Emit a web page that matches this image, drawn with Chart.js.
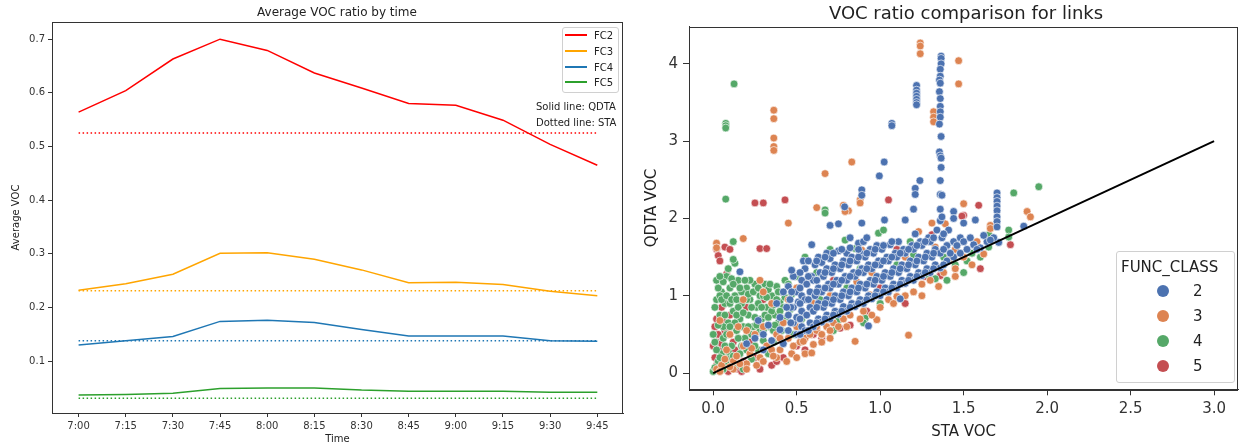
<!DOCTYPE html>
<html>
<head>
<meta charset="utf-8">
<script src="https://cdn.jsdelivr.net/npm/chart.js@4.4.0/dist/chart.umd.min.js"></script>
<style>
body { margin: 0; background: #fff; font-family: "DejaVu Sans", sans-serif; color: #222; }
#wrap { position: relative; width: 1243px; height: 446px; overflow: hidden; }
.box { position: absolute; top: 0; height: 446px; }
.title { position: absolute; transform: translate(-50%, -50%); white-space: nowrap; color: #222; }
.lg { position: absolute; background: rgba(255,255,255,0.85); border: 1px solid #d0d0d0; border-radius: 3px; }
.lgtxt { position: absolute; white-space: nowrap; transform: translateY(-50%); }
</style>
</head>
<body>
<div id="wrap">
  <div class="box" style="left:0;width:630px"><canvas id="left"></canvas></div>
  <div class="box" style="left:635px;width:608px"><canvas id="right"></canvas></div>
  <div class="title" style="left:337px;top:12px;font-size:12px">Average VOC ratio by time</div>
  <div class="title" style="left:966px;top:12px;font-size:18px">VOC ratio comparison for links</div>
  <div id="leftLegend"></div>
  <div class="lgtxt" style="left:536px;top:106px;font-size:10px">Solid line: QDTA</div>
  <div class="lgtxt" style="left:536px;top:122px;font-size:10px">Dotted line: STA</div>
  <div id="rightLegend"></div>
</div>
<script>
// ---- left chart data ----
var times = ['7:00', '7:15', '7:30', '7:45', '8:00', '8:15', '8:30', '8:45', '9:00', '9:15', '9:30', '9:45'];
var seriesNames = ['FC2', 'FC3', 'FC4', 'FC5'];
var fc2Qdta = [0.564, 0.604, 0.663, 0.700, 0.679, 0.637, 0.609, 0.580, 0.577, 0.549, 0.504, 0.465];
var fc3Qdta = [0.232, 0.244, 0.262, 0.301, 0.302, 0.290, 0.270, 0.246, 0.247, 0.243, 0.230, 0.222];
var fc4Qdta = [0.130, 0.138, 0.146, 0.174, 0.176, 0.172, 0.159, 0.147, 0.147, 0.147, 0.138, 0.137];
var fc5Qdta = [0.037, 0.038, 0.040, 0.049, 0.050, 0.050, 0.046, 0.044, 0.044, 0.044, 0.042, 0.042];
var staAvg = [0.525, 0.231, 0.138, 0.031];
var leftTicks = [0.1, 0.2, 0.3, 0.4, 0.5, 0.6, 0.7];

// ---- right chart data ([STA VOC, QDTA VOC] per link) ----
var funcClasses = ['2', '3', '4', '5'];
var class2Points = [
  [1.365,4.10],[1.365,4.07],[1.365,4.0],[1.36,3.93],[1.36,3.84],[1.355,3.79],[1.36,3.75],[1.355,3.64],[1.36,3.55],[1.36,3.45],
  [1.36,3.38],[1.36,3.31],[1.355,3.22],[1.365,3.06],[1.355,2.86],[1.36,2.81],[1.365,2.78],[1.365,2.66],[1.36,2.49],[1.36,2.31],
  [1.36,2.12],[1.36,1.97],[1.37,2.30],[1.37,2.02],[1.218,3.72],[1.218,3.66],[1.218,3.62],[1.218,3.58],[1.218,3.54],[1.218,3.50],
  [1.218,3.47],[1.07,3.23],[1.07,3.20],[1.024,2.73],[0.995,2.55],[0.89,2.37],[0.89,2.30],[0.787,2.15],[1.026,1.98],[1.15,1.98],
  [0.75,1.93],[0.70,1.91],[1.238,2.49],[1.21,2.39],[1.21,2.31],[1.20,2.12],[0.89,1.94],[1.44,2.09],[1.44,2.0],[1.5,1.94],
  [1.57,1.98],[1.70,2.33],[1.70,2.27],[1.70,2.22],[1.70,2.16],[1.70,2.10],[1.70,2.02],[1.70,1.96],[1.70,1.89],[1.86,1.90],
  [1.71,1.69],[0.59,1.66],
  [0.45,0.55],[0.45,0.75],[0.46,0.95],[0.45,1.12],[0.48,0.65],[0.48,0.85],[0.48,1.25],[0.5,0.5],[0.5,0.72],[0.51,0.92],
  [0.5,1.05],[0.53,0.6],[0.53,0.8],[0.53,1.0],[0.53,1.2],[0.54,1.45],[0.55,0.55],[0.56,0.75],[0.55,0.95],[0.56,1.15],
  [0.55,1.35],[0.58,0.65],[0.58,0.85],[0.58,1.05],[0.59,1.25],[0.6,0.6],[0.6,0.8],[0.61,1.0],[0.6,1.2],[0.61,1.4],
  [0.63,0.7],[0.63,0.9],[0.63,1.1],[0.64,1.3],[0.63,1.5],[0.65,0.66],[0.66,0.85],[0.65,1.05],[0.66,1.25],[0.65,1.43],
  [0.68,0.75],[0.68,0.95],[0.69,1.15],[0.68,1.35],[0.68,1.55],[0.7,0.7],[0.71,0.9],[0.7,1.1],[0.71,1.3],[0.7,1.48],
  [0.73,0.8],[0.73,1.0],[0.74,1.2],[0.73,1.4],[0.75,0.76],[0.76,0.95],[0.75,1.15],[0.76,1.35],[0.75,1.58],[0.78,0.86],
  [0.78,1.05],[0.79,1.25],[0.78,1.45],[0.8,0.8],[0.81,1.0],[0.8,1.2],[0.81,1.4],[0.8,1.55],[0.82,1.75],[0.83,0.9],
  [0.83,1.1],[0.84,1.3],[0.83,1.5],[0.85,0.86],[0.86,1.05],[0.85,1.25],[0.86,1.45],[0.87,1.68],[0.88,0.95],[0.88,1.15],
  [0.89,1.35],[0.88,1.55],[0.9,0.9],[0.91,1.1],[0.9,1.3],[0.91,1.5],[0.9,1.7],[0.93,0.61],[0.93,1.0],[0.94,1.2],
  [0.93,1.4],[0.94,1.6],[0.95,0.96],[0.96,1.15],[0.95,1.35],[0.96,1.55],[0.98,1.05],[0.98,1.25],[0.99,1.45],[0.98,1.65],
  [1.0,1.0],[1.01,1.2],[1.0,1.4],[1.01,1.6],[1.03,1.1],[1.03,1.3],[1.04,1.5],[1.05,1.05],[1.06,1.25],[1.05,1.45],
  [1.06,1.66],[1.08,1.15],[1.08,1.35],[1.09,1.55],[1.1,1.1],[1.11,1.3],[1.1,1.5],[1.11,1.7],[1.12,0.96],[1.13,1.2],
  [1.13,1.4],[1.14,1.6],[1.15,1.16],[1.16,1.35],[1.15,1.55],[1.18,1.25],[1.18,1.45],[1.19,1.65],[1.2,1.2],[1.21,1.4],
  [1.2,1.6],[1.21,1.8],[1.23,1.3],[1.23,1.5],[1.24,1.7],[1.25,1.26],[1.26,1.45],[1.25,1.65],[1.28,1.35],[1.28,1.55],
  [1.29,1.75],[1.3,1.3],[1.31,1.5],[1.3,1.7],[1.33,1.4],[1.33,1.6],[1.34,1.85],[1.36,1.36],[1.36,1.55],[1.37,1.75],
  [1.4,1.45],[1.4,1.65],[1.41,1.85],[1.44,1.5],[1.44,1.7],[1.48,1.55],[1.48,1.75],[1.52,1.6],[1.56,1.66],[1.6,1.62],
  [1.64,1.7],[1.68,1.75],
  [0.465,0.65],[0.465,0.85],[0.47,1.05],[0.47,1.33],[0.52,0.5],[0.52,0.7],[0.52,0.9],[0.52,1.1],[0.52,1.3],[0.57,0.55],
  [0.57,0.95],[0.57,1.25],[0.57,1.45],[0.62,0.65],[0.62,0.85],[0.62,1.05],[0.62,1.2],[0.62,1.45],[0.67,0.7],[0.67,0.9],
  [0.67,1.1],[0.67,1.3],[0.67,1.5],[0.72,0.75],[0.72,0.95],[0.72,1.15],[0.72,1.35],[0.72,1.55],[0.77,0.8],[0.77,1.0],
  [0.77,1.2],[0.77,1.4],[0.77,1.6],[0.82,0.85],[0.82,1.05],[0.82,1.25],[0.82,1.45],[0.82,1.62],[0.87,0.9],[0.87,1.1],
  [0.87,1.3],[0.87,1.5],[0.87,1.6],[0.92,0.95],[0.92,1.15],[0.92,1.35],[0.92,1.55],[0.92,1.75],[0.97,1.0],[0.97,1.2],
  [0.97,1.4],[0.97,1.6],[1.02,1.05],[1.02,1.25],[1.02,1.45],[1.02,1.65],[1.07,1.1],[1.07,1.3],[1.07,1.5],[1.07,1.7],
  [1.12,1.15],[1.12,1.35],[1.12,1.55],[1.17,1.2],[1.17,1.4],[1.17,1.6],[1.22,1.25],[1.22,1.45],[1.22,1.65],[1.27,1.3],
  [1.27,1.5],[1.27,1.7],[1.32,1.35],[1.32,1.55],[1.32,1.75],[1.38,1.4],[1.38,1.6],[1.38,1.8],[1.42,1.55],[1.46,1.65],
  [1.5,1.7],[1.54,1.75],[1.58,1.6],[1.62,1.78],[1.66,1.72],
  [0.25,0.45],[0.3,0.5],[0.35,0.42],[0.4,0.56],[0.38,0.9],[0.42,1.05],[0.16,1.31],[0.3,0.3],[0.2,0.38],[0.42,0.38],
  [0.33,0.62],[0.44,0.85],[0.27,0.68],[0.4,0.72]
];
var class3Points = [
  [1.24,4.27],[1.24,4.23],[1.24,4.13],[1.47,4.04],[1.47,3.74],[1.32,3.38],[1.32,3.31],[1.32,3.25],[0.363,3.40],[0.363,3.29],
  [0.363,3.04],[0.363,2.93],[0.363,2.88],[0.83,2.73],[0.67,2.58],[0.88,2.24],[0.88,2.2],[0.81,2.10],[0.62,2.14],[0.45,1.94],
  [0.78,2.17],[0.79,2.09],[1.5,2.19],[1.88,2.09],[1.9,2.02],[1.23,1.83],[1.31,1.94],[1.39,1.93],[1.66,1.91],[1.66,1.87],
  [0.18,1.74],[0.02,1.68],[0.02,1.62],
  [0.02,0.05],[0.05,0.1],[0.08,0.3],[0.1,0.5],[0.12,0.15],[0.15,0.6],[0.18,0.35],[0.2,0.55],[0.22,0.25],[0.25,0.5],
  [0.28,0.2],[0.3,0.6],[0.32,0.35],[0.35,0.3],[0.38,0.5],[0.4,0.3],[0.42,0.65],[0.45,0.45],[0.47,0.25],[0.5,0.6],
  [0.52,0.4],[0.55,0.45],[0.58,0.5],[0.6,0.37],[0.62,0.55],[0.65,0.5],[0.68,0.6],[0.7,0.55],[0.72,0.65],[0.75,0.6],
  [0.78,0.7],[0.82,0.75],[0.85,0.41],[0.86,1.18],[0.89,1.59],[0.94,1.01],[0.98,0.69],[1.0,0.85],[1.03,1.46],[1.1,0.99],
  [1.15,1.5],[1.17,0.49],[1.2,1.05],[1.25,1.15],[1.3,1.2],[1.33,1.63],[1.38,1.3],[1.41,1.46],[1.45,1.35],[1.5,1.5],
  [1.55,1.4],[1.62,1.54],[0.7,1.0],[0.5,1.1],[0.45,0.95],[0.35,0.9],[0.28,1.2],[0.18,0.95],[0.04,0.68],[0.3,1.05],
  [0.12,0.05],[0.2,0.12],[0.26,0.1],[0.38,0.2],[0.44,0.15],[0.5,0.2],[0.55,0.25],[0.9,0.8],[1.05,0.95],[1.15,1.0],
  [0.95,1.3],[0.6,0.9],[1.45,1.6],[1.58,1.7],[0.4,0.45],[0.59,0.26],[0.54,0.41],
  [0.04,0.02],[0.07,0.18],[0.1,0.08],[0.14,0.22],[0.16,0.12],[0.2,0.05],[0.23,0.32],[0.3,0.15],[0.65,0.4],[0.7,0.45],
  [0.8,0.6],[0.88,0.7],[0.95,0.75],[1.08,0.9],[1.25,1.0],[1.35,1.12],[1.45,1.25],[0.62,0.6],[0.48,0.35],[0.36,0.22]
];
var class4Points = [
  [0.02,0.95],[0.02,1.2],[0.04,0.75],[0.05,1.05],[0.06,0.45],[0.07,0.9],[0.08,1.25],[0.09,0.65],[0.1,1.1],[0.11,0.35],
  [0.12,0.8],[0.13,1.0],[0.14,0.55],[0.15,1.2],[0.16,0.7],[0.17,0.9],[0.19,0.45],[0.2,1.1],[0.21,0.75],[0.22,0.95],
  [0.24,0.6],[0.25,1.15],[0.26,0.85],[0.28,1.0],[0.29,0.7],[0.3,0.42],[0.31,1.15],[0.32,0.85],[0.34,0.6],[0.35,1.0],
  [0.37,0.75],[0.38,1.12],[0.4,0.92],[0.41,0.55],[0.43,1.2],[0.44,0.72],[0.47,1.02],[0.5,1.25],[0.03,0.15],[0.05,0.25],
  [0.08,0.12],[0.1,0.2],[0.13,0.1],[0.16,0.25],[0.18,0.05],[0.2,0.3],[0.23,0.18],[0.27,0.3],[0.33,0.25],[0.36,0.4],
  [0.06,0.6],[0.09,1.35],[0.13,1.42],[0.12,1.47],[0.12,1.7],[0.03,1.1],[0.07,0.35],[0.15,0.45],
  [0.0,0.5],[0.01,0.85],[0.04,1.0],[0.06,1.18],[0.08,0.5],[0.1,0.9],[0.11,1.22],[0.13,0.65],[0.15,0.85],[0.17,1.05],
  [0.18,0.6],[0.2,0.95],[0.22,1.2],[0.23,0.5],[0.25,0.72],[0.27,0.9],[0.28,0.55],[0.3,1.0],[0.31,0.75],[0.33,1.08],
  [0.35,0.8],[0.36,0.55],[0.38,0.95],[0.39,0.65],[0.42,0.85],[0.45,1.15],[0.17,0.35],[0.25,0.35],[0.06,0.05],[0.0,0.02],
  [0.02,0.3],
  [0.01,0.4],[0.03,0.62],[0.05,0.95],[0.04,1.25],[0.07,0.75],[0.08,1.0],[0.1,0.6],[0.11,0.95],[0.12,1.15],[0.14,0.75],
  [0.14,0.95],[0.16,1.1],[0.18,0.78],[0.19,1.2],[0.21,0.6],[0.21,1.02],[0.23,0.85],[0.24,1.05],[0.26,0.62],[0.27,1.1],
  [0.29,0.85],[0.3,0.55],[0.32,0.98],[0.33,0.72],[0.34,1.15],[0.36,0.88],[0.37,0.62],[0.39,1.05],[0.4,0.8],[0.42,0.68],
  [0.43,0.98],[0.46,0.82],[0.01,0.07],[0.04,0.2],[0.09,0.28],[0.12,0.22],
  [0.55,1.5],[0.62,1.3],[0.7,1.6],[0.75,0.69],[0.79,1.72],[0.85,1.61],[0.88,1.35],[0.91,0.71],[0.97,1.22],[0.99,1.81],
  [1.02,1.85],[1.18,1.7],[1.2,1.53],[1.29,1.27],[1.33,1.22],[1.45,1.4],[1.55,1.55],[1.65,1.63],[1.65,1.79],[1.77,1.85],
  [1.77,1.76],[1.80,2.33],[1.95,2.41],[1.52,1.45],[0.58,0.95],[0.48,0.5],[0.67,2.11],[0.67,2.07],[0.075,3.23],[0.075,3.2],
  [0.075,3.17],[0.125,3.74],[0.075,2.25],[1.1,1.4],[0.8,1.1],[1.38,1.5],[1.6,1.5],[0.64,0.95],[0.53,0.7],
  [0.72,0.55],[0.9,0.65],[1.0,0.9],[1.4,1.2],[1.5,1.3]
];
var class5Points = [
  [0.01,0.2],[0.02,0.4],[0.01,0.6],[0.03,0.5],[0.02,0.7],[0.04,0.3],[0.05,0.85],[0.06,0.15],[0.07,0.55],[0.1,0.75],
  [0.12,0.4],[0.15,0.05],[0.18,0.15],[0.2,0.85],[0.25,0.2],[0.28,0.05],[0.3,0.95],[0.35,0.1],[0.38,0.15],[0.42,0.2],
  [0.5,0.35],[0.55,0.3],[0.6,0.5],[0.65,0.45],[0.72,1.2],[0.76,0.58],[0.84,1.46],[0.92,0.8],[1.0,1.1],[1.1,1.6],
  [1.2,1.61],[1.27,1.25],[1.36,1.27],[1.31,1.79],[1.5,2.04],[1.49,2.03],[1.59,2.17],[1.78,1.66],[1.36,1.26],[0.02,1.6],
  [0.03,1.52],[0.04,1.45],[0.07,1.63],[0.1,1.6],[0.28,1.61],[0.32,1.61],[0.25,2.2],[0.3,2.2],[0.43,2.24],[1.05,2.24],
  [0.08,1.28],[0.15,0.7],[0.22,0.4],[0.0,0.35],[0.03,0.08],[0.09,0.02],[0.14,1.18],
  [0.02,0.1],[0.05,0.38],[0.08,0.22],[0.11,0.1],[0.13,0.3],[0.17,0.02],[0.06,0.68],[0.82,0.62],[1.15,0.9],[1.6,1.35]
];
var refLine = [[0, 0], [3, 3]];
var rightXTicks = [0, 0.5, 1, 1.5, 2, 2.5, 3];
var rightYTicks = [0, 1, 2, 3, 4];

var lineColors = ['#ff0000', '#ffa500', '#1f77b4', '#2ca02c'];
var dotColors = ['#4c72b0', '#dd8452', '#55a868', '#c44e52'];
var font = 'DejaVu Sans';
var ink = '#333';

var frame = {
  id: 'frame',
  afterDraw: function (c) {
    var a = c.chartArea, x = c.ctx;
    x.save();
    x.strokeStyle = ink;
    x.lineWidth = 1;
    x.strokeRect(Math.round(a.left) + 0.5, Math.round(a.top) + 0.5, Math.round(a.right - a.left) - 1, Math.round(a.bottom - a.top));
    x.restore();
  }
};

function toXY(pairs) {
  return pairs.map(function (p) { return { x: p[0], y: p[1] }; });
}

// ---- left chart ----
var qdta = [fc2Qdta, fc3Qdta, fc4Qdta, fc5Qdta];
var leftSets = [];
qdta.forEach(function (vals, k) {
  leftSets.push({
    label: seriesNames[k],
    data: vals.map(function (v, i) { return { x: i, y: v }; }),
    borderColor: lineColors[k], borderWidth: 1.5, pointRadius: 0, tension: 0
  });
  leftSets.push({
    label: seriesNames[k] + ' STA',
    data: times.map(function (t, i) { return { x: i, y: staAvg[k] }; }),
    borderColor: lineColors[k], borderWidth: 1.5, borderDash: [1.5, 2.5], pointRadius: 0
  });
});

new Chart(document.getElementById('left'), {
  type: 'line',
  data: { datasets: leftSets },
  options: {
    responsive: true, maintainAspectRatio: false, animation: false,
    layout: { padding: { top: 22, right: 7 } },
    plugins: { legend: { display: false }, tooltip: { enabled: false } },
    scales: {
      x: {
        type: 'linear', min: -0.564, max: 11.545,
        afterBuildTicks: function (s) { s.ticks = times.map(function (t, i) { return { value: i }; }); },
        afterFit: function (s) { s.height = 33; },
        ticks: { callback: function (v) { return times[v]; }, color: ink, font: { family: font, size: 10 }, padding: 3, maxRotation: 0, autoSkip: false },
        grid: { drawOnChartArea: false, tickLength: 4, color: ink },
        border: { color: ink },
        title: { display: true, text: 'Time', color: '#222', font: { family: font, size: 10 }, padding: { top: 0, bottom: 1 } }
      },
      y: {
        min: 0.0033, max: 0.732,
        afterBuildTicks: function (s) { s.ticks = leftTicks.map(function (v) { return { value: v }; }); },
        afterFit: function (s) { s.width = 52; },
        ticks: { callback: function (v) { return v.toFixed(1); }, color: ink, font: { family: font, size: 10 }, padding: 3 },
        grid: { drawOnChartArea: false, tickLength: 4, color: ink },
        border: { color: ink },
        title: { display: true, text: 'Average VOC', color: '#222', font: { family: font, size: 10 }, padding: { top: 10, bottom: 0 } }
      }
    }
  },
  plugins: [frame]
});

// ---- right chart ----
var classPoints = [class2Points, class3Points, class4Points, class5Points];
var rightSets = [{
  label: 'y = x', type: 'line', data: toXY(refLine), borderColor: '#000', borderWidth: 2,
  pointRadius: 0, order: 0
}];
classPoints.forEach(function (pts, k) {
  rightSets.push({
    label: funcClasses[k], data: toXY(pts), backgroundColor: dotColors[k],
    borderColor: 'rgba(255,255,255,0.9)', borderWidth: 0.7, pointRadius: 3.9, order: 1
  });
});

new Chart(document.getElementById('right'), {
  type: 'scatter',
  data: { datasets: rightSets },
  options: {
    responsive: true, maintainAspectRatio: false, animation: false,
    layout: { padding: { top: 26.7, right: 0.5 } },
    plugins: { legend: { display: false }, tooltip: { enabled: false } },
    scales: {
      x: {
        type: 'linear', min: -0.145, max: 3.145,
        afterBuildTicks: function (s) { s.ticks = rightXTicks.map(function (v) { return { value: v }; }); },
        afterFit: function (s) { s.height = 56.7; },
        ticks: { callback: function (v) { return v.toFixed(1); }, color: ink, font: { family: font, size: 15 }, padding: 5, maxRotation: 0 },
        grid: { drawOnChartArea: false, tickLength: 6, color: ink },
        border: { color: ink },
        title: { display: true, text: 'STA VOC', color: '#222', font: { family: font, size: 15 }, padding: { top: 0, bottom: 5 } }
      },
      y: {
        min: -0.21, max: 4.48,
        afterBuildTicks: function (s) { s.ticks = rightYTicks.map(function (v) { return { value: v }; }); },
        afterFit: function (s) { s.width = 54; },
        ticks: { callback: function (v) { return String(v); }, color: ink, font: { family: font, size: 15 }, padding: 5 },
        grid: { drawOnChartArea: false, tickLength: 6, color: ink },
        border: { color: ink },
        title: { display: true, text: 'QDTA VOC', color: '#222', font: { family: font, size: 15 }, padding: { top: 8, bottom: 0 } }
      }
    }
  },
  plugins: [frame]
});

// ---- legends (HTML text) ----
var ll = document.getElementById('leftLegend');
var lbox = document.createElement('div');
lbox.className = 'lg';
lbox.style.cssText = 'left:562px;top:27px;width:55px;height:64px';
ll.appendChild(lbox);
var lys = [35, 51, 67, 82];
seriesNames.forEach(function (n, k) {
  var sw = document.createElement('div');
  sw.style.cssText = 'position:absolute;left:565px;top:' + (lys[k] - 1) + 'px;width:22px;height:2px;background:' + lineColors[k];
  ll.appendChild(sw);
  var t = document.createElement('div');
  t.className = 'lgtxt';
  t.style.cssText = 'left:594px;top:' + lys[k] + 'px;font-size:10px';
  t.textContent = n;
  ll.appendChild(t);
});

var rl = document.getElementById('rightLegend');
var rbox = document.createElement('div');
rbox.className = 'lg';
rbox.style.cssText = 'left:1116px;top:251px;width:117px;height:130px';
rl.appendChild(rbox);
var rt = document.createElement('div');
rt.className = 'lgtxt';
rt.style.cssText = 'left:1121px;top:267px;font-size:15px';
rt.textContent = 'FUNC_CLASS';
rl.appendChild(rt);
var rys = [291, 316, 341, 366];
funcClasses.forEach(function (n, k) {
  var m = document.createElement('div');
  m.style.cssText = 'position:absolute;left:' + (1163 - 6) + 'px;top:' + (rys[k] - 6) + 'px;width:12px;height:12px;border-radius:50%;background:' + dotColors[k];
  rl.appendChild(m);
  var t = document.createElement('div');
  t.className = 'lgtxt';
  t.style.cssText = 'left:1193px;top:' + rys[k] + 'px;font-size:15px';
  t.textContent = n;
  rl.appendChild(t);
});
</script>
</body>
</html>
